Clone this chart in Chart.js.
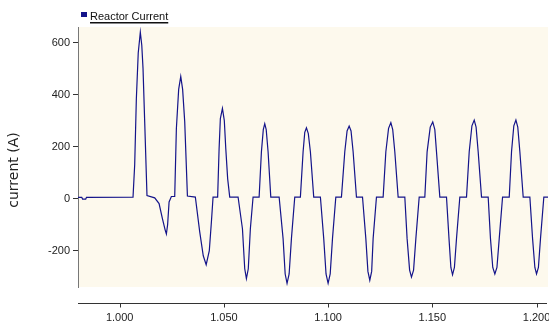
<!DOCTYPE html>
<html>
<head>
<meta charset="utf-8">
<script src="https://cdn.jsdelivr.net/npm/chart.js@4"></script>
<style>
  html, body { margin: 0; padding: 0; background: #ffffff; }
</style>
</head>
<body>
<canvas id="myChart" width="549" height="326"></canvas>
<script>
// time (s) and reactor current (A)
let time = [
  0.9800, 0.9818, 0.9822, 0.9837, 0.9841,
  1.0064, 1.0072, 1.0080, 1.0089, 1.0099, 1.0106, 1.0112, 1.0120, 1.0131,
  1.0168, 1.0189, 1.0205, 1.0218, 1.0224, 1.0230, 1.0237, 1.0248,
  1.0264, 1.0272, 1.0283, 1.0293, 1.0302, 1.0312, 1.0325,
  1.0363, 1.0384, 1.0401, 1.0415, 1.0430, 1.0440, 1.0448,
  1.0470, 1.0477, 1.0483, 1.0493, 1.0502, 1.0509, 1.0518, 1.0528,
  1.0568, 1.0589, 1.0600, 1.0608, 1.0617, 1.0627, 1.0640,
  1.0669, 1.0680, 1.0689, 1.0696, 1.0703, 1.0712, 1.0725,
  1.0765, 1.0784, 1.0794, 1.0803, 1.0813, 1.0824, 1.0840,
  1.0867, 1.0880, 1.0888, 1.0896, 1.0905, 1.0915, 1.0931,
  1.0963, 1.0979, 1.0990, 1.1000, 1.1010, 1.1021, 1.1037,
  1.1064, 1.1080, 1.1091, 1.1101, 1.1110, 1.1120, 1.1136,
  1.1165, 1.1181, 1.1191, 1.1200, 1.1209, 1.1216, 1.1232,
  1.1264, 1.1277, 1.1290, 1.1301, 1.1310, 1.1320, 1.1336,
  1.1368, 1.1379, 1.1391, 1.1400, 1.1410, 1.1421, 1.1437,
  1.1464, 1.1475, 1.1490, 1.1502, 1.1512, 1.1520, 1.1536,
  1.1568, 1.1580, 1.1589, 1.1597, 1.1606, 1.1616, 1.1632,
  1.1664, 1.1677, 1.1690, 1.1701, 1.1710, 1.1720, 1.1736,
  1.1768, 1.1779, 1.1790, 1.1800, 1.1810, 1.1821, 1.1837,
  1.1869, 1.1880, 1.1891, 1.1901, 1.1910, 1.1920, 1.1936,
  1.1968, 1.1981, 1.1992, 1.2000, 1.2009, 1.2019, 1.2035,
  1.2060,
];
let current = [
  5, 5, -2, -2, 5,
  6, 130, 385, 560, 640, 590, 500, 296, 12,
  3, -19, -77, -120, -136, -100, -13, 8,
  8, 270, 420, 470, 420, 296, 10,
  6, -128, -220, -254, -200, -90, 6,
  6, 193, 308, 347, 300, 193, 77, 6,
  6, -116, -270, -308, -270, -116, 6,
  6, 180, 265, 288, 265, 180, 6,
  6, -154, -290, -326, -290, -154, 6,
  6, 180, 255, 272, 250, 180, 6,
  6, -154, -290, -326, -290, -154, 6,
  6, 180, 260, 279, 260, 180, 6,
  6, -154, -280, -314, -280, -154, 6,
  6, 180, 270, 292, 265, 180, 6,
  6, -154, -275, -302, -275, -154, 6,
  6, 180, 275, 295, 265, 180, 6,
  6, -154, -265, -293, -265, -154, 6,
  6, 180, 280, 302, 275, 180, 6,
  6, -154, -265, -290, -265, -154, 6,
  6, 180, 280, 302, 275, 180, 6,
  6, -154, -265, -290, -265, -154, 6,
  6,
];
let xTicks = [1.0, 1.05, 1.1, 1.15, 1.2];
let yTicks = [-200, 0, 200, 400, 600];

let seriesLabel = "Reactor Current";
let yTitle = "current (A)";
let lineColor = "#14148a";
let plotBg = "#fdf9ed";
let tickFont = { family: "'Liberation Sans', Arial, sans-serif", size: 11 };

let points = time.map((t, i) => ({ x: t, y: current[i] }));

// cream background inside the plot area only
const plotBackground = {
  id: "plotBackground",
  beforeDraw(chart) {
    const a = chart.chartArea;
    const c = chart.ctx;
    c.save();
    c.fillStyle = plotBg;
    c.fillRect(a.left, a.top, a.right - a.left, a.bottom - a.top);
    c.restore();
  },
};

// legend with underline, rotated y title, detached x axis line
const extras = {
  id: "extras",
  afterDraw(chart) {
    const c = chart.ctx;
    const a = chart.chartArea;
    c.save();

    // legend
    c.fillStyle = lineColor;
    c.fillRect(a.left + 3, 12, 6, 5);
    c.font = "11px 'Liberation Sans', Arial, sans-serif";
    c.fillStyle = "#111";
    c.textBaseline = "alphabetic";
    c.textAlign = "left";
    c.fillText(seriesLabel, a.left + 12, 20);
    const w = c.measureText(seriesLabel).width;
    c.fillRect(a.left + 12, 22, w, 1.5);

    // y title
    c.translate(14, 170);
    c.rotate(-Math.PI / 2);
    c.font = "14px 'DejaVu Sans', sans-serif";
    c.fillStyle = "#222";
    c.textAlign = "center";
    c.textBaseline = "middle";
    c.fillText(yTitle, 0, 0);
    c.setTransform(1, 0, 0, 1, 0, 0);

    // x axis drawn a little below the plot
    const xs = chart.scales.x;
    const yl = a.bottom + 16.5;
    c.strokeStyle = "#333";
    c.lineWidth = 1;
    c.beginPath();
    c.moveTo(xs.left, yl);
    c.lineTo(xs.right - 1, yl);
    xs.ticks.forEach((t) => {
      const px = Math.round(xs.getPixelForValue(t.value)) + 0.5;
      c.moveTo(px, yl);
      c.lineTo(px, yl + 4);
    });
    c.stroke();
    c.restore();
  },
};

var ctx = document.getElementById("myChart").getContext("2d");
var myChart = new Chart(ctx, {
  type: "line",
  data: {
    datasets: [
      {
        label: seriesLabel,
        data: points,
        borderColor: lineColor,
        borderWidth: 1.2,
        pointRadius: 0,
        tension: 0,
        fill: false,
      },
    ],
  },
  options: {
    responsive: false,
    animation: false,
    layout: { padding: { top: 27, right: 1, left: 0, bottom: 0 } },
    plugins: {
      legend: { display: false },
      tooltip: { enabled: false },
    },
    scales: {
      x: {
        type: "linear",
        min: 0.98,
        max: 1.2055,
        afterFit: (s) => {
          s.height = 39;
          s.paddingLeft = 0;
          s.paddingRight = 0;
        },
        afterBuildTicks: (s) => { s.ticks = xTicks.map((v) => ({ value: v })); },
        border: { display: false },
        grid: { display: false, drawTicks: false },
        ticks: {
          font: tickFont,
          color: "#222",
          padding: 24,
          maxRotation: 0,
          callback: (v) => Number(v).toFixed(3),
        },
      },
      y: {
        min: -340,
        max: 660,
        afterFit: (s) => {
          s.width = 78;
          s.paddingTop = 0;
          s.paddingBottom = 0;
        },
        afterBuildTicks: (s) => { s.ticks = yTicks.map((v) => ({ value: v })); },
        border: { display: true, color: "#777", width: 1 },
        grid: { drawOnChartArea: false, drawTicks: true, tickLength: 5, color: "#333" },
        ticks: { font: tickFont, color: "#222", padding: 3 },
      },
    },
  },
  plugins: [plotBackground, extras],
});
</script>
</body>
</html>
